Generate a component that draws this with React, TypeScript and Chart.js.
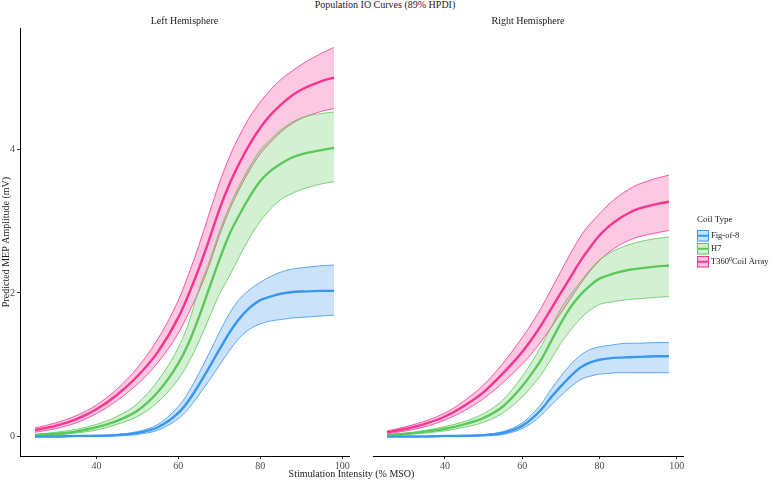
import { useEffect, useRef } from "react";
import { Chart, registerables } from "chart.js";

Chart.register(...registerables);

// Stimulation intensity (% MSO) at which the curves are evaluated
const intensity = [25, 30, 35, 40, 45, 50, 55, 60, 62.5, 65, 67.5, 70, 72.5, 75, 77.5, 80, 82.5, 85, 87.5, 90, 95, 98];

// Left hemisphere — predicted MEP amplitude (mV), mean and 89% HPDI bounds
const leftT360Mean = [0.09, 0.15, 0.24, 0.38, 0.58, 0.84, 1.18, 1.66, 1.98, 2.34, 2.74, 3.16, 3.52, 3.82, 4.08, 4.3, 4.48, 4.62, 4.74, 4.83, 4.95, 5.0];
const leftT360Upper = [0.12, 0.19, 0.29, 0.44, 0.66, 0.96, 1.36, 1.9, 2.26, 2.66, 3.1, 3.53, 3.9, 4.2, 4.46, 4.66, 4.83, 4.97, 5.08, 5.18, 5.34, 5.42];
const leftT360Lower = [0.06, 0.11, 0.19, 0.32, 0.5, 0.73, 1.03, 1.44, 1.72, 2.02, 2.38, 2.8, 3.16, 3.46, 3.72, 3.94, 4.1, 4.24, 4.35, 4.43, 4.53, 4.57];

const leftH7Mean = [0.02, 0.04, 0.07, 0.13, 0.22, 0.36, 0.62, 1.02, 1.3, 1.66, 2.06, 2.46, 2.82, 3.1, 3.35, 3.56, 3.7, 3.8, 3.88, 3.93, 3.99, 4.02];
const leftH7Upper = [0.03, 0.06, 0.1, 0.17, 0.28, 0.46, 0.78, 1.24, 1.58, 2.05, 2.43, 2.85, 3.21, 3.51, 3.77, 3.99, 4.14, 4.27, 4.37, 4.44, 4.5, 4.52];
const leftH7Lower = [0.01, 0.02, 0.05, 0.09, 0.17, 0.28, 0.48, 0.8, 1.03, 1.32, 1.65, 1.98, 2.24, 2.52, 2.78, 3.0, 3.17, 3.3, 3.38, 3.44, 3.52, 3.55];

const leftFig8Mean = [0.0, 0.0, 0.01, 0.01, 0.02, 0.05, 0.13, 0.33, 0.5, 0.72, 0.96, 1.21, 1.45, 1.65, 1.8, 1.9, 1.95, 1.99, 2.01, 2.02, 2.03, 2.03];
const leftFig8Upper = [0.01, 0.01, 0.01, 0.02, 0.03, 0.07, 0.17, 0.42, 0.62, 0.88, 1.16, 1.45, 1.72, 1.92, 2.05, 2.15, 2.23, 2.29, 2.33, 2.35, 2.38, 2.39];
const leftFig8Lower = [0.0, 0.0, 0.0, 0.0, 0.01, 0.03, 0.09, 0.25, 0.39, 0.58, 0.78, 0.99, 1.2, 1.38, 1.5, 1.57, 1.61, 1.63, 1.65, 1.66, 1.68, 1.69];

// Right hemisphere
const rightT360Mean = [0.06, 0.11, 0.18, 0.28, 0.43, 0.62, 0.88, 1.18, 1.36, 1.56, 1.78, 2.0, 2.22, 2.44, 2.63, 2.8, 2.93, 3.03, 3.11, 3.17, 3.24, 3.27];
const rightT360Upper = [0.08, 0.14, 0.22, 0.33, 0.5, 0.72, 1.02, 1.38, 1.58, 1.8, 2.05, 2.3, 2.55, 2.78, 2.96, 3.1, 3.24, 3.35, 3.44, 3.51, 3.6, 3.64];
const rightT360Lower = [0.04, 0.08, 0.14, 0.23, 0.36, 0.53, 0.75, 1.01, 1.16, 1.33, 1.52, 1.72, 1.92, 2.12, 2.3, 2.45, 2.57, 2.66, 2.73, 2.78, 2.84, 2.87];

const rightH7Mean = [0.02, 0.04, 0.07, 0.11, 0.17, 0.26, 0.42, 0.7, 0.88, 1.08, 1.33, 1.58, 1.8, 1.97, 2.1, 2.2, 2.25, 2.29, 2.32, 2.34, 2.37, 2.38];
const rightH7Upper = [0.03, 0.05, 0.09, 0.14, 0.21, 0.32, 0.51, 0.84, 1.04, 1.27, 1.52, 1.78, 1.98, 2.15, 2.32, 2.46, 2.55, 2.62, 2.67, 2.71, 2.76, 2.78];
const rightH7Lower = [0.01, 0.03, 0.05, 0.08, 0.13, 0.2, 0.33, 0.55, 0.7, 0.87, 1.08, 1.3, 1.48, 1.64, 1.76, 1.84, 1.87, 1.89, 1.91, 1.92, 1.94, 1.95];

const rightFig8Mean = [0.0, 0.0, 0.0, 0.01, 0.01, 0.02, 0.05, 0.15, 0.25, 0.38, 0.55, 0.7, 0.84, 0.96, 1.03, 1.07, 1.09, 1.1, 1.105, 1.11, 1.12, 1.12];
const rightFig8Upper = [0.01, 0.01, 0.01, 0.01, 0.02, 0.03, 0.07, 0.19, 0.31, 0.46, 0.66, 0.84, 1.0, 1.13, 1.21, 1.25, 1.27, 1.29, 1.3, 1.3, 1.31, 1.31];
const rightFig8Lower = [0.0, 0.0, 0.0, 0.0, 0.0, 0.01, 0.03, 0.11, 0.19, 0.3, 0.44, 0.57, 0.69, 0.79, 0.84, 0.87, 0.88, 0.89, 0.89, 0.89, 0.89, 0.89];

const xTicks = [40, 60, 80, 100];
const yTicks = [0, 2, 4];

const coilNames = ["Fig-of-8", "H7", "T360"];
const coilColors = ["#3A97F0", "#5CC85C", "#F7358F"];
const coilFills = ["rgba(58,151,240,0.27)", "rgba(92,200,92,0.27)", "rgba(247,53,143,0.27)"];

const SERIF = '"Liberation Serif", "Times New Roman", serif';
const X_MIN = 21.35;
const X_MAX = 101.65;
const Y_MIN = -0.27;
const Y_MAX = 5.69;

type Band = { mean: number[]; upper: number[]; lower: number[] };

const toPoints = (ys: number[]) => intensity.map((x, i) => ({ x, y: ys[i] }));

function buildDatasets(bands: Band[]) {
  const ribbons: any[] = [];
  const lines: any[] = [];
  bands.forEach((b, k) => {
    const lowerIndex = ribbons.length;
    ribbons.push({
      label: coilNames[k] + " lower",
      data: toPoints(b.lower),
      borderColor: coilColors[k],
      borderWidth: 0.8,
      pointRadius: 0,
      fill: false,
      cubicInterpolationMode: "monotone",
      order: 1,
    });
    ribbons.push({
      label: coilNames[k] + " upper",
      data: toPoints(b.upper),
      borderColor: coilColors[k],
      borderWidth: 0.8,
      backgroundColor: coilFills[k],
      pointRadius: 0,
      fill: { target: lowerIndex },
      cubicInterpolationMode: "monotone",
      order: 1,
    });
  });
  bands.forEach((b, k) => {
    lines.push({
      label: coilNames[k],
      data: toPoints(b.mean),
      borderColor: coilColors[k],
      borderWidth: 2.4,
      pointRadius: 0,
      fill: false,
      cubicInterpolationMode: "monotone",
      order: 0,
    });
  });
  return [...ribbons, ...lines];
}

function stripLabel(text: string) {
  return {
    id: "stripLabel",
    afterDraw(chart: any) {
      const { ctx, chartArea } = chart;
      ctx.save();
      ctx.font = `10px ${SERIF}`;
      ctx.fillStyle = "#1a1a1a";
      ctx.textAlign = "center";
      ctx.textBaseline = "middle";
      ctx.fillText(text, (chartArea.left + chartArea.right) / 2, 21);
      ctx.restore();
    },
  };
}

const legendPlugin = {
  id: "coilLegend",
  afterDraw(chart: any) {
    const { ctx } = chart;
    const x0 = 357;
    ctx.save();
    ctx.textBaseline = "middle";
    ctx.textAlign = "left";
    ctx.fillStyle = "#1a1a1a";
    ctx.font = `9px ${SERIF}`;
    ctx.fillText("Coil Type", x0, 220);
    coilNames.forEach((_, k) => {
      const y = 230 + k * 13;
      ctx.fillStyle = coilFills[k];
      ctx.fillRect(x0, y, 12, 11.5);
      ctx.strokeStyle = coilColors[k];
      ctx.lineWidth = 1;
      ctx.strokeRect(x0 + 0.5, y + 0.5, 11, 10.5);
      ctx.lineWidth = 2;
      ctx.beginPath();
      ctx.moveTo(x0, y + 5.75);
      ctx.lineTo(x0 + 12, y + 5.75);
      ctx.stroke();
      ctx.fillStyle = "#1a1a1a";
      ctx.font = `8.5px ${SERIF}`;
      const ty = y + 6;
      const tx = x0 + 14;
      if (k === 2) {
        ctx.fillText("T360", tx, ty);
        const w1 = ctx.measureText("T360").width;
        ctx.font = `6px ${SERIF}`;
        ctx.fillText("0", tx + w1, ty - 3);
        const w2 = ctx.measureText("0").width;
        ctx.font = `8.5px ${SERIF}`;
        ctx.fillText("Coil Array", tx + w1 + w2, ty);
      } else {
        ctx.fillText(coilNames[k], tx, ty);
      }
    });
    ctx.restore();
  },
};

function makeOptions(showY: boolean, padding: any) {
  const tickFont = { family: SERIF, size: 10 };
  return {
    responsive: false,
    animation: false as const,
    devicePixelRatio: 1,
    layout: { padding },
    plugins: { legend: { display: false }, tooltip: { enabled: false }, title: { display: false } },
    scales: {
      x: {
        type: "linear" as const,
        min: X_MIN,
        max: X_MAX,
        afterBuildTicks: (s: any) => {
          s.ticks = xTicks.map((v) => ({ value: v }));
        },
        afterFit: (s: any) => {
          s.height = 25;
        },
        grid: { display: true, drawOnChartArea: false, drawTicks: true, tickLength: 3, color: "#333333" },
        border: { display: true, color: "#000000", width: 1 },
        ticks: { padding: 1, color: "#4d4d4d", font: tickFont, maxRotation: 0, autoSkip: false },
      },
      y: {
        type: "linear" as const,
        display: showY,
        min: Y_MIN,
        max: Y_MAX,
        afterBuildTicks: (s: any) => {
          s.ticks = yTicks.map((v) => ({ value: v }));
        },
        afterFit: (s: any) => {
          s.width = 20;
        },
        grid: { display: true, drawOnChartArea: false, drawTicks: true, tickLength: 3, color: "#333333" },
        border: { display: true, color: "#000000", width: 1 },
        ticks: { padding: 2, color: "#4d4d4d", font: tickFont, autoSkip: false },
        title: {
          display: true,
          text: "Predicted MEP Amplitude (mV)",
          color: "#1a1a1a",
          font: { family: SERIF, size: 10 },
          padding: { top: 0, bottom: 0 },
        },
      },
    },
  };
}

export default function App() {
  const leftRef = useRef<HTMLCanvasElement | null>(null);
  const rightRef = useRef<HTMLCanvasElement | null>(null);

  useEffect(() => {
    const left = new Chart(leftRef.current as HTMLCanvasElement, {
      type: "line",
      data: {
        datasets: buildDatasets([
          { mean: leftFig8Mean, upper: leftFig8Upper, lower: leftFig8Lower },
          { mean: leftH7Mean, upper: leftH7Upper, lower: leftH7Lower },
          { mean: leftT360Mean, upper: leftT360Upper, lower: leftT360Lower },
        ]),
      },
      options: makeOptions(true, { left: 0, right: 11, top: 28, bottom: 0 }) as any,
      plugins: [stripLabel("Left Hemisphere")],
    });
    const right = new Chart(rightRef.current as HTMLCanvasElement, {
      type: "line",
      data: {
        datasets: buildDatasets([
          { mean: rightFig8Mean, upper: rightFig8Upper, lower: rightFig8Lower },
          { mean: rightH7Mean, upper: rightH7Upper, lower: rightH7Lower },
          { mean: rightT360Mean, upper: rightT360Upper, lower: rightT360Lower },
        ]),
      },
      options: makeOptions(false, { left: 13, right: 87, top: 28, bottom: 0 }) as any,
      plugins: [stripLabel("Right Hemisphere"), legendPlugin],
    });
    return () => {
      left.destroy();
      right.destroy();
    };
  }, []);

  return (
    <div
      style={{
        position: "fixed",
        left: 0,
        top: 0,
        width: 770,
        height: 481,
        background: "#ffffff",
        overflow: "hidden",
        fontFamily: SERIF,
        color: "#1a1a1a",
      }}
    >
      <div
        style={{
          position: "absolute",
          left: 0,
          top: -1,
          width: 770,
          textAlign: "center",
          fontSize: 10,
          lineHeight: "12px",
        }}
      >
        Population IO Curves (89% HPDI)
      </div>
      <canvas
        ref={leftRef}
        width={360}
        height={481}
        style={{ position: "absolute", left: 0, top: 0, width: 360, height: 481 }}
      />
      <canvas
        ref={rightRef}
        width={430}
        height={481}
        style={{ position: "absolute", left: 340, top: 0, width: 430, height: 481 }}
      />
      <div
        style={{
          position: "absolute",
          left: 0,
          top: 468,
          width: 703,
          textAlign: "center",
          fontSize: 10,
          lineHeight: "12px",
        }}
      >
        Stimulation Intensity (% MSO)
      </div>
    </div>
  );
}
